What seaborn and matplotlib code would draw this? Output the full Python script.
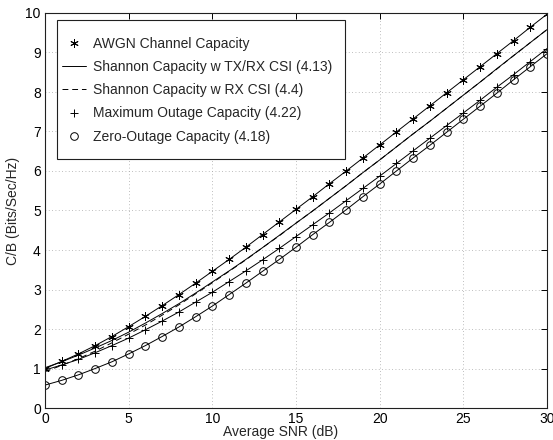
import matplotlib
matplotlib.use("Agg")
import matplotlib.pyplot as plt
from matplotlib.patches import Rectangle
from matplotlib.lines import Line2D
import seaborn as sns

# average SNR in dB, one marker per dB
snr_db = [0, 1, 2, 3, 4, 5, 6, 7, 8, 9, 10, 11, 12, 13, 14, 15,
          16, 17, 18, 19, 20, 21, 22, 23, 24, 25, 26, 27, 28, 29, 30]

# capacity per unit bandwidth (bits/sec/Hz)
awgn = [1.00, 1.18, 1.37, 1.58, 1.81, 2.06, 2.32, 2.59, 2.87, 3.16, 3.46,
        3.76, 4.07, 4.39, 4.71, 5.03, 5.35, 5.68, 6.00, 6.33, 6.66,
        6.99, 7.32, 7.65, 7.98, 8.31, 8.64, 8.97, 9.30, 9.64, 9.97]
tx_rx_csi = [1.02, 1.17, 1.34, 1.52, 1.71, 1.92, 2.15, 2.39, 2.64, 2.91, 3.19,
             3.47, 3.76, 4.06, 4.37, 4.68, 4.99, 5.31, 5.63, 5.96, 6.28,
             6.61, 6.94, 7.26, 7.59, 7.92, 8.25, 8.59, 8.92, 9.25, 9.58]
rx_csi = [0.92, 1.08, 1.25, 1.44, 1.65, 1.87, 2.10, 2.35, 2.61, 2.89, 3.17,
          3.46, 3.75, 4.06, 4.36, 4.68, 4.99, 5.31, 5.63, 5.96, 6.28,
          6.61, 6.94, 7.26, 7.59, 7.92, 8.25, 8.58, 8.92, 9.25, 9.58]
max_outage = [0.96, 1.09, 1.23, 1.40, 1.58, 1.77, 1.98, 2.20, 2.43, 2.68, 2.93,
              3.20, 3.47, 3.75, 4.04, 4.34, 4.64, 4.94, 5.25, 5.56, 5.87,
              6.19, 6.51, 6.83, 7.15, 7.47, 7.79, 8.12, 8.44, 8.77, 9.10]
zero_outage = [0.58, 0.70, 0.84, 1.00, 1.17, 1.37, 1.58, 1.81, 2.05, 2.31, 2.58,
               2.87, 3.16, 3.46, 3.76, 4.07, 4.39, 4.70, 5.02, 5.35, 5.67,
               6.00, 6.33, 6.65, 6.98, 7.31, 7.64, 7.97, 8.31, 8.64, 8.97]

labels = [
    "AWGN Channel Capacity",
    "Shannon Capacity w TX/RX CSI (4.13)",
    "Shannon Capacity w RX CSI (4.4)",
    "Maximum Outage Capacity (4.22)",
    "Zero-Outage Capacity (4.18)",
]

sns.set_style("white")
plt.rcParams["font.family"] = ["Liberation Sans", "DejaVu Sans"]
plt.rcParams["font.size"] = 10

fig = plt.figure(figsize=(5.53, 4.4), dpi=100)
ax = fig.add_axes([45 / 553, 32 / 440, 502 / 553, 395 / 440])

lw = 0.7
dash = (0, (6, 4))
asterisk = (6, 2, 0)
star_kw = dict(linestyle="none", marker=asterisk, ms=6, mec="k", mew=0.7)
plus_kw = dict(linestyle="none", marker="+", ms=6, mec="k", mew=0.7)
circ_kw = dict(linestyle="none", marker="o", ms=5.5, mfc="none", mec="k", mew=0.7)

# connecting lines
sns.lineplot(x=snr_db, y=awgn, ax=ax, color="k", lw=lw)
sns.lineplot(x=snr_db, y=tx_rx_csi, ax=ax, color="k", lw=lw)
sns.lineplot(x=snr_db, y=rx_csi, ax=ax, color="k", lw=lw, linestyle=dash)
sns.lineplot(x=snr_db, y=max_outage, ax=ax, color="k", lw=lw)
sns.lineplot(x=snr_db, y=zero_outage, ax=ax, color="k", lw=lw)

# markers
ax.plot(snr_db, awgn, **star_kw)
ax.plot(snr_db, max_outage, **plus_kw)
ax.plot(snr_db, zero_outage, **circ_kw)

ax.set_xlim(0, 30)
ax.set_ylim(0, 10)
ax.set_xticks([0, 5, 10, 15, 20, 25, 30])
ax.set_yticks(range(0, 11))
ax.grid(True, linestyle=(0, (1, 3)), color="#a8a8a8", lw=0.6)
ax.tick_params(direction="in", top=True, right=True, length=4, width=0.7,
               pad=3, labelsize=10, colors="k")
for sp in ax.spines.values():
    sp.set_color("#202020")
    sp.set_linewidth(0.8)

ax.set_xlabel("Average SNR (dB)", fontsize=10)
ax.xaxis.set_label_coords(0.469, -0.044)
ax.set_ylabel("C/B (Bits/Sec/Hz)", fontsize=10, labelpad=4)

# MATLAB-style legend box
box = Rectangle((12 / 502, (408 - 159) / 395), (345 - 57) / 502, (159 - 20) / 395,
                transform=ax.transAxes, facecolor="white", edgecolor="#202020",
                lw=0.8, zorder=5)
ax.add_patch(box)

handles = [
    Line2D([], [], **star_kw),
    Line2D([], [], color="k", lw=lw),
    Line2D([], [], color="k", lw=lw, linestyle=dash),
    Line2D([], [], **plus_kw),
    Line2D([], [], **circ_kw),
]
leg = ax.legend(handles, labels, loc="upper left",
                bbox_to_anchor=((62 - 45) / 502, (408 - 37) / 395),
                frameon=False, borderpad=0, borderaxespad=0,
                handlelength=1.75, handletextpad=0.45, labelspacing=0.66,
                fontsize=10)
leg.set_zorder(6)

fig.savefig("out.png", dpi=100, facecolor="white")
